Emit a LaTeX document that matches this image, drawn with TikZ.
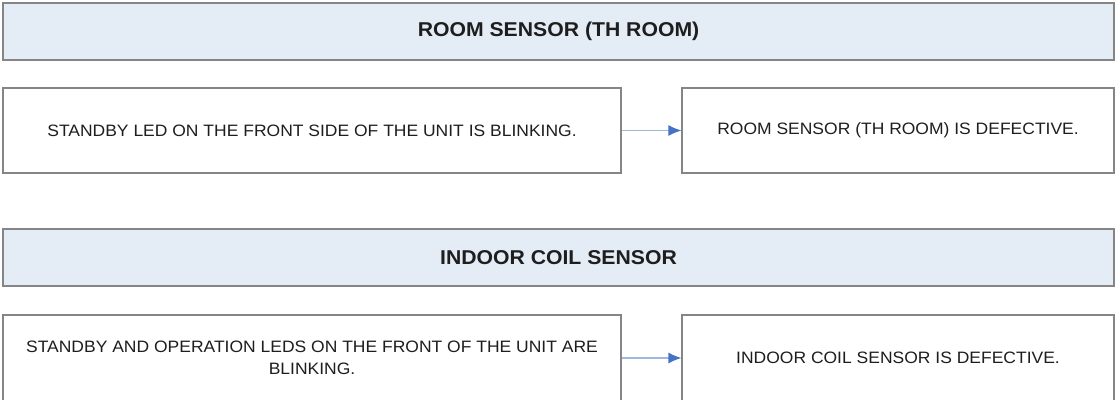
\documentclass[tikz,border=0pt]{standalone}
\usepackage{fontspec}
\setmainfont[FakeStretch=1.06]{Liberation Sans}
\usetikzlibrary{arrows.meta}
\definecolor{headfill}{HTML}{E4ECF6}
\definecolor{boxborder}{HTML}{858585}
\definecolor{arrowline}{HTML}{9DB9E2}
\definecolor{arrowhead}{HTML}{4472C4}
\definecolor{textcol}{HTML}{1E1E1E}
\tikzset{
  panel/.style={rectangle, draw=boxborder, line width=1.2pt, align=center, text=textcol, inner sep=0pt},
  header/.style={panel, fill=headfill, minimum width=1111pt, minimum height=57pt, font=\fontsize{20}{24}\selectfont\bfseries},
  cause/.style={panel, fill=white, minimum height=85pt, font=\fontsize{16.5}{22}\selectfont},
  flow/.style={draw=arrowline, line width=1.2pt, -{Latex[length=13pt, width=11pt, color=arrowhead]}}
}

\begin{document}
\begin{tikzpicture}[x=1pt, y=-1pt]
\useasboundingbox (0,0) rectangle (1115,399);

% room sensor
\node[header] (roomhead) at (558.5,31.5) {ROOM SENSOR (TH ROOM)};
\node[cause, minimum width=618pt] (roomsign) at (312,130.5) {STANDBY LED ON THE FRONT SIDE OF THE UNIT IS BLINKING.};
\node[cause, minimum width=432pt] (roomfault) at (898,130.5) {ROOM SENSOR (TH ROOM) IS DEFECTIVE.};
\draw[flow] (roomsign.east) -- (roomfault.west);

% indoor coil sensor
\node[header] (coilhead) at (558.5,257.5) {INDOOR COIL SENSOR};
\node[cause, minimum width=618pt, minimum height=86pt] (coilsign) at (312,358) {STANDBY AND OPERATION LEDS ON THE FRONT OF THE UNIT ARE\\BLINKING.};
\node[cause, minimum width=432pt, minimum height=86pt] (coilfault) at (898,358) {INDOOR COIL SENSOR IS DEFECTIVE.};
\draw[flow] (coilsign.east) -- (coilfault.west);

\end{tikzpicture}
\end{document}
